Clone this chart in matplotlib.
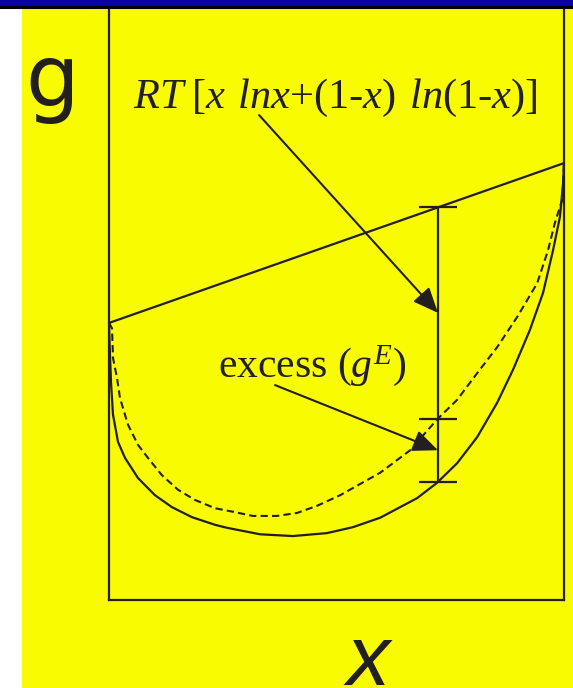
import numpy as np
import matplotlib
matplotlib.use('Agg')
from matplotlib import pyplot as plt
from matplotlib.patches import Rectangle

# mole fraction x and molar Gibbs energy g (arbitrary units)
x_pure = [0.0, 1.0]
g_pure = [4.68, 7.38]

# ideal solution: straight line + RT[x ln x + (1-x) ln(1-x)]
x_ideal = [0.0, 0.0066, 0.0088, 0.0176, 0.0242, 0.0418, 0.0637, 0.0857, 0.116, 0.152,
           0.189, 0.233, 0.273, 0.316, 0.369, 0.413, 0.457, 0.508, 0.552, 0.596,
           0.662, 0.721, 0.765, 0.809, 0.853, 0.897, 0.941, 0.965, 0.980, 0.996, 1.0]
g_ideal = [4.68, 4.59, 4.09, 3.75, 3.41, 2.96, 2.62, 2.40, 2.11, 1.86,
           1.69, 1.55, 1.49, 1.42, 1.42, 1.47, 1.59, 1.77, 1.96, 2.15,
           2.53, 3.05, 3.38, 3.83, 4.27, 4.78, 5.35, 5.91, 6.37, 6.76, 7.38]

# real solution (ideal + excess)
x_real = [0.0, 0.001, 0.0044, 0.0088, 0.0198, 0.0352, 0.0637, 0.101, 0.138, 0.182,
          0.233, 0.259, 0.332, 0.404, 0.479, 0.536, 0.596, 0.677, 0.721, 0.765,
          0.809, 0.853, 0.888, 0.925, 0.954, 0.976, 0.991, 0.998, 1.0]
g_real = [4.68, 4.39, 3.68, 3.13, 2.67, 2.40, 2.06, 1.77, 1.57, 1.40,
          1.27, 1.22, 1.11, 1.08, 1.13, 1.23, 1.39, 1.72, 1.98, 2.31,
          2.75, 3.33, 3.89, 4.56, 5.19, 5.91, 6.47, 7.04, 7.38]

x_bar = 0.723

W, H = 573, 688
yellow = '#f9fb00'
ink = '#231f20'

plt.rcParams['mathtext.fontset'] = 'custom'
plt.rcParams['mathtext.rm'] = 'Liberation Serif'
plt.rcParams['mathtext.it'] = 'Liberation Serif:italic'

fig = plt.figure(figsize=(W / 100, H / 100), dpi=100)
fig.patch.set_facecolor('white')

# slide background and title bar
fig.add_artist(Rectangle((22 / W, 0), 1 - 22 / W, 1 - 7 / H, transform=fig.transFigure,
                         facecolor=yellow, edgecolor='none', zorder=0))
fig.add_artist(Rectangle((0, 1 - 6 / H), 1, 6 / H, transform=fig.transFigure,
                         facecolor='#0a00a8', edgecolor='none', zorder=5))
fig.add_artist(plt.Line2D([0, 1], [1 - 6.5 / H, 1 - 6.5 / H], transform=fig.transFigure,
                          color='black', lw=2.2, zorder=6))

ax = fig.add_axes([109 / W, 88 / H, 455 / W, 592 / H])
ax.set_facecolor('none')
ax.set_xlim(0, 1)
ax.set_ylim(0, 10)
ax.set_xticks([])
ax.set_yticks([])
ax.spines['top'].set_visible(False)
for s in ['left', 'right', 'bottom']:
    ax.spines[s].set_color(ink)
    ax.spines[s].set_linewidth(1.6)

ax.plot(x_pure, g_pure, color=ink, lw=1.6)
ax.plot(x_ideal, g_ideal, color=ink, lw=1.5, linestyle=(0, (3.5, 2)))
ax.plot(x_real, g_real, color=ink, lw=1.6)

# vertical bar showing the mixing contributions
g_top = np.interp(x_bar, x_pure, g_pure)
g_mid = np.interp(x_bar, x_ideal, g_ideal)
g_bot = np.interp(x_bar, x_real, g_real)
ax.vlines(x_bar, g_bot, g_top, color=ink, lw=1.6)
ax.hlines([g_top, g_mid, g_bot], x_bar - 0.042, x_bar + 0.042, color=ink, lw=1.6)

arrow = dict(arrowstyle='-|>,head_length=0.7,head_width=0.3', color=ink, lw=1.5,
             mutation_scale=22, shrinkA=0, shrinkB=0)
ax.annotate('', xy=(x_bar, 4.85), xytext=(0.33, 8.19), arrowprops=arrow)
ax.annotate('', xy=(x_bar, 2.53), xytext=(0.365, 3.63), arrowprops=arrow)

ax.text(0.053, 8.31,
        r'$RT\;[x\;\,lnx\text{+(}1\text{-}x\text{)}\;\,ln\text{(}1\text{-}x\text{)]}$',
        fontsize=30.5, color=ink, ha='left', va='baseline')
ax.text(0.24, 3.77, r'excess $(g^{E})$', fontsize=30, color=ink, ha='left', va='baseline',
        family='Liberation Serif')

fig.text(25 / W, 1 - 106 / H, 'g', fontsize=61, color=ink, family='DejaVu Sans',
         ha='left', va='baseline')
fig.text(368 / W, 3 / H, 'x', fontsize=62, color=ink, family='Liberation Sans',
         style='italic', ha='center', va='baseline')

fig.savefig('out.png', dpi=100, facecolor=fig.get_facecolor())
